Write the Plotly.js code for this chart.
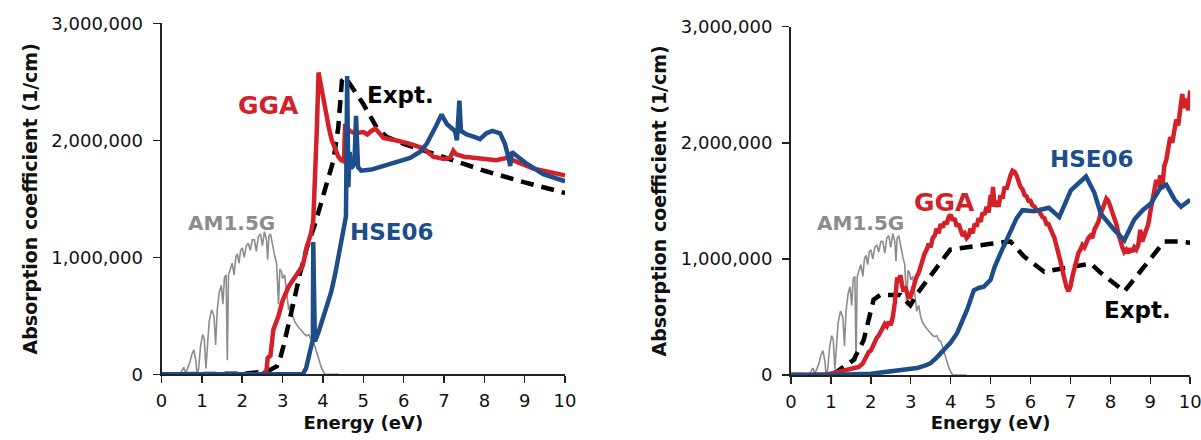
<!DOCTYPE html>
<html>
<head>
<meta charset="utf-8">
<script src="https://cdn.plot.ly/plotly-3.0.1.min.js"></script>
<style>html,body{margin:0;padding:0;background:#fff;}#chart{width:1201px;height:440px;}</style>
</head>
<body>
<div id="chart"></div>
<script>
// Values in units of 1e6 (1/cm); energies in eV
// ---- Solar spectrum (shared by both panels) ----
const amX = [0.3,0.45,0.5,0.55,0.6,0.65,0.7,0.75,0.8,0.85,0.88,0.92,0.97,1.02,1.06,1.1,1.13,1.18,1.24,1.3,1.34,1.38,1.43,1.48,1.52,1.56,1.6,1.63,1.66,1.7,1.75,1.8,1.84,1.88,1.92,1.96,2.0,2.05,2.1,2.15,2.2,2.25,2.3,2.35,2.4,2.45,2.5,2.55,2.6,2.63,2.66,2.7,2.75,2.8,2.85,2.9,2.93,2.97,3.0,3.05,3.1,3.15,3.2,3.25,3.3,3.35,3.4,3.45,3.5,3.55,3.6,3.65,3.7,3.75,3.8,3.85,3.9,3.95,4.0,4.05,4.4];
const amY = [0,0,0.03,0.06,0.01,0.05,0.1,0.17,0.21,0.12,0.0,0.05,0.25,0.34,0.3,0.05,0.2,0.45,0.55,0.5,0.25,0.55,0.7,0.76,0.6,0.83,0.85,0.12,0.85,0.9,0.95,0.85,1.0,1.03,0.95,1.06,1.08,1.0,1.1,1.12,1.06,1.15,1.15,1.05,1.18,1.2,1.1,1.22,1.15,0.98,1.18,1.2,1.1,1.02,0.95,0.6,0.9,0.88,0.82,0.85,0.7,0.55,0.6,0.5,0.45,0.42,0.4,0.38,0.36,0.34,0.33,0.34,0.3,0.29,0.24,0.18,0.13,0.07,0.03,0.0,0.0];

// ---- Left panel ----
const ggaLX = [0,2.5,2.6,2.63,2.7,2.77,2.9,3.0,3.15,3.35,3.5,3.6,3.7,3.76,3.8,3.85,3.89,3.93,3.97,4.03,4.09,4.15,4.22,4.3,4.38,4.45,4.52,4.55,4.6,4.67,4.8,5.0,5.1,5.2,5.3,5.4,5.5,5.8,6.16,6.5,6.73,7.0,7.15,7.23,7.3,7.5,7.97,8.3,8.56,8.8,9.2,9.6,10];
const ggaLY = [0,0,0.03,0.14,0.16,0.38,0.5,0.63,0.75,0.86,0.93,1.09,1.2,1.31,1.6,2.11,2.58,2.5,2.45,2.35,2.2,2.1,2.0,1.92,1.86,1.83,1.82,2.14,2.1,2.08,2.06,2.07,2.05,2.08,2.1,2.06,2.02,2.0,1.97,1.93,1.86,1.84,1.85,1.91,1.88,1.86,1.84,1.83,1.85,1.82,1.76,1.73,1.70];

const hseLX = [0,3.5,3.58,3.65,3.72,3.75,3.76,3.78,3.8,3.9,4.0,4.1,4.2,4.3,4.4,4.5,4.57,4.6,4.63,4.66,4.7,4.78,4.82,4.87,4.95,5.2,5.5,5.7,6.0,6.16,6.4,6.57,6.8,6.94,7.07,7.15,7.27,7.32,7.35,7.38,7.42,7.56,7.75,7.89,8.05,8.2,8.39,8.51,8.6,8.64,8.68,8.75,9.05,9.46,10];
const hseLY = [0,0,0.05,0.15,0.27,0.3,1.13,0.5,0.28,0.37,0.47,0.58,0.7,0.85,1.02,1.22,1.35,2.55,1.6,1.9,1.76,1.8,2.21,1.77,1.74,1.75,1.78,1.8,1.83,1.85,1.9,1.97,2.12,2.22,2.14,2.12,2.08,2.0,2.2,2.34,2.08,2.05,2.03,2.01,2.06,2.08,2.06,1.97,1.85,1.78,1.9,1.88,1.8,1.71,1.65];

const expLX = [0,1,2,2.5,2.7,2.86,2.95,3.02,3.15,3.27,3.43,3.6,3.8,4.01,4.15,4.26,4.38,4.47,4.55,4.75,5.0,5.33,5.58,6,7,8,9,10];
const expLY = [0,0,0.005,0.02,0.04,0.07,0.15,0.24,0.42,0.61,0.86,1.08,1.28,1.54,1.7,1.83,2.11,2.51,2.54,2.43,2.31,2.11,2.03,1.97,1.85,1.74,1.64,1.55];

// ---- Right panel ----
const ggaRX = [0,0.5,0.9,1.1,1.2,1.3,1.4,1.5,1.6,1.7,1.8,1.85,1.9,1.95,2.0,2.05,2.1,2.15,2.2,2.25,2.3,2.35,2.4,2.45,2.5,2.55,2.6,2.63,2.66,2.7,2.74,2.78,2.82,2.86,2.9,2.95,3.0,3.05,3.1,3.15,3.2,3.25,3.3,3.35,3.4,3.45,3.5,3.55,3.6,3.65,3.7,3.75,3.8,3.85,3.9,3.95,4.0,4.05,4.1,4.15,4.2,4.25,4.3,4.35,4.4,4.45,4.5,4.55,4.6,4.65,4.7,4.75,4.8,4.85,4.9,4.95,5.0,5.03,5.06,5.1,5.15,5.2,5.25,5.3,5.35,5.4,5.45,5.5,5.55,5.6,5.65,5.7,5.75,5.8,5.85,5.9,5.95,6.0,6.05,6.1,6.15,6.2,6.25,6.3,6.35,6.4,6.45,6.5,6.55,6.6,6.65,6.7,6.75,6.8,6.85,6.9,6.95,7.0,7.05,7.1,7.15,7.2,7.25,7.3,7.35,7.4,7.45,7.5,7.55,7.6,7.65,7.7,7.75,7.8,7.85,7.9,7.95,8.0,8.05,8.1,8.15,8.2,8.25,8.3,8.35,8.4,8.45,8.5,8.55,8.6,8.65,8.7,8.75,8.8,8.85,8.9,8.95,9.0,9.05,9.1,9.15,9.2,9.25,9.3,9.35,9.4,9.45,9.5,9.55,9.6,9.65,9.7,9.75,9.8,9.85,9.9,9.95,10.0];
const ggaRY = [0,0,0.005,0.02,0.03,0.04,0.05,0.06,0.07,0.07,0.1,0.14,0.17,0.2,0.21,0.25,0.28,0.32,0.34,0.38,0.4,0.44,0.42,0.46,0.43,0.5,0.62,0.78,0.84,0.8,0.86,0.78,0.72,0.76,0.7,0.66,0.68,0.74,0.8,0.85,0.88,0.95,0.98,1.05,1.08,1.13,1.1,1.18,1.2,1.26,1.22,1.3,1.27,1.32,1.3,1.36,1.38,1.33,1.35,1.28,1.3,1.24,1.2,1.22,1.18,1.2,1.26,1.22,1.3,1.28,1.35,1.32,1.4,1.38,1.45,1.4,1.55,1.45,1.62,1.45,1.5,1.45,1.55,1.52,1.62,1.6,1.68,1.72,1.76,1.75,1.72,1.66,1.62,1.6,1.55,1.54,1.5,1.5,1.46,1.45,1.42,1.42,1.38,1.36,1.35,1.3,1.3,1.25,1.22,1.18,1.12,1.05,0.98,0.9,0.82,0.76,0.72,0.76,0.85,0.92,0.98,1.05,1.08,1.12,1.1,1.15,1.18,1.2,1.18,1.25,1.28,1.32,1.38,1.42,1.48,1.52,1.5,1.45,1.42,1.36,1.3,1.22,1.15,1.1,1.06,1.08,1.05,1.09,1.06,1.1,1.08,1.12,1.25,1.15,1.2,1.25,1.3,1.4,1.5,1.6,1.68,1.62,1.72,1.6,1.8,1.85,1.95,2.05,2.0,2.12,2.2,2.15,2.3,2.42,2.3,2.38,2.28,2.45];

const hseRX = [0,1.0,2.0,2.49,2.9,3.16,3.35,3.49,3.65,3.83,4.0,4.16,4.3,4.41,4.5,4.58,4.7,4.83,5.0,5.1,5.25,5.5,5.65,5.8,6.09,6.46,6.72,7.01,7.18,7.39,7.6,7.76,8.1,8.35,8.6,8.81,9.02,9.27,9.4,9.61,9.77,10];
const hseRY = [0,0,0.01,0.03,0.045,0.06,0.08,0.1,0.15,0.22,0.28,0.36,0.46,0.56,0.65,0.73,0.75,0.76,0.82,0.93,1.05,1.25,1.35,1.42,1.41,1.44,1.36,1.59,1.64,1.71,1.57,1.39,1.25,1.16,1.34,1.42,1.48,1.62,1.64,1.51,1.45,1.51];

const expRX = [0,1.0,1.15,1.57,1.82,2.07,2.24,2.74,2.99,3.16,3.66,3.99,5.0,5.5,5.84,6.34,7.01,7.51,7.76,8.35,8.77,9.35,9.69,10];
const expRY = [0,0,0.03,0.13,0.3,0.65,0.69,0.69,0.6,0.7,0.93,1.08,1.13,1.15,1.02,0.89,0.93,0.96,0.88,0.72,0.9,1.15,1.15,1.14];

const tickVals = [0,1,2,3];
const tickText = ['0','1,000,000','2,000,000','3,000,000'];
const xTicks = [0,1,2,3,4,5,6,7,8,9,10];

const M = v => v * 1e6;
const RED = '#d32029', BLUE = '#1d4e89', GRAY = '#8c8c8c';
const FONT = '"DejaVu Sans", Verdana, sans-serif';

function mk(x, y, color, w, xa, ya, dash) {
  return {x: x, y: y.map(M), type: 'scatter', mode: 'lines', xaxis: xa, yaxis: ya,
          line: {color: color, width: w, dash: dash || 'solid', shape: 'linear'},
          showlegend: false, hoverinfo: 'skip'};
}

const data = [
  mk(amX, amY, GRAY, 1.6, 'x', 'y'),
  mk(expLX, expLY, '#000', 4.5, 'x', 'y', '13px,8px'),
  mk(ggaLX, ggaLY, RED, 4.5, 'x', 'y'),
  mk(hseLX, hseLY, BLUE, 4.5, 'x', 'y'),
  mk(amX, amY, GRAY, 1.6, 'x2', 'y2'),
  mk(expRX, expRY, '#000', 4.5, 'x2', 'y2', '13px,8px'),
  mk(ggaRX, ggaRY, RED, 4.5, 'x2', 'y2'),
  mk(hseRX, hseRY, BLUE, 4.5, 'x2', 'y2')
];

const xAxisBase = {
  range: [0, 10], tickvals: xTicks, ticks: 'outside', ticklen: 7, tickwidth: 1.5,
  tickcolor: '#222', showline: true, linecolor: '#222', linewidth: 2, showgrid: false,
  zeroline: false, fixedrange: true, ticklabelstandoff: 2, ticklabeloverflow: 'allow',
  tickfont: {family: FONT, size: 18, color: '#111'},
  title: {text: 'Energy (eV)', font: {family: FONT, size: 18, color: '#111', weight: 'bold'}, standoff: 6}
};
const yAxisBase = {
  range: [0, 3e6], tickvals: tickVals.map(M), ticktext: tickText, ticks: 'outside', ticklen: 7,
  tickwidth: 1.5, tickcolor: '#222', showline: true, linecolor: '#222', linewidth: 2,
  showgrid: false, zeroline: false, fixedrange: true, ticklabelstandoff: 6, ticklabeloverflow: 'allow',
  tickfont: {family: FONT, size: 18, color: '#111'},
  title: {text: 'Absorption coefficient (1/cm)', font: {family: FONT, size: 19, color: '#111', weight: 'bold'}, standoff: 9}
};

function ann(text, x, y, color, xr, yr, size) {
  return {text: text, x: x, y: M(y), xref: xr, yref: yr, showarrow: false,
          font: {family: FONT, size: size || 23, color: color, weight: 'bold'}};
}

const layout = {
  width: 1201, height: 440,
  margin: {l: 0, r: 0, t: 0, b: 0},
  paper_bgcolor: '#fff', plot_bgcolor: '#fff',
  xaxis: Object.assign({}, xAxisBase, {domain: [0.1345, 0.4705], anchor: 'y'}),
  yaxis: Object.assign({}, yAxisBase, {domain: [0.1493, 0.947], anchor: 'x'}),
  xaxis2: Object.assign({}, xAxisBase, {domain: [0.6586, 0.991], anchor: 'y2'}),
  yaxis2: Object.assign({}, yAxisBase, {domain: [0.1477, 0.9393], anchor: 'x2'}),
  annotations: [
    ann('GGA', 2.66, 2.3, RED, 'x', 'y', 25),
    ann('Expt.', 5.91, 2.39, '#000', 'x', 'y'),
    ann('HSE06', 5.71, 1.22, BLUE, 'x', 'y'),
    ann('AM1.5G', 1.74, 1.29, GRAY, 'x', 'y', 20),
    ann('AM1.5G', 1.73, 1.31, GRAY, 'x2', 'y2', 20),
    ann('GGA', 3.84, 1.49, RED, 'x2', 'y2', 25),
    ann('HSE06', 7.55, 1.86, BLUE, 'x2', 'y2'),
    ann('Expt.', 8.69, 0.56, '#000', 'x2', 'y2')
  ]
};

Plotly.newPlot('chart', data, layout, {staticPlot: true, displayModeBar: false});
</script>
</body>
</html>
